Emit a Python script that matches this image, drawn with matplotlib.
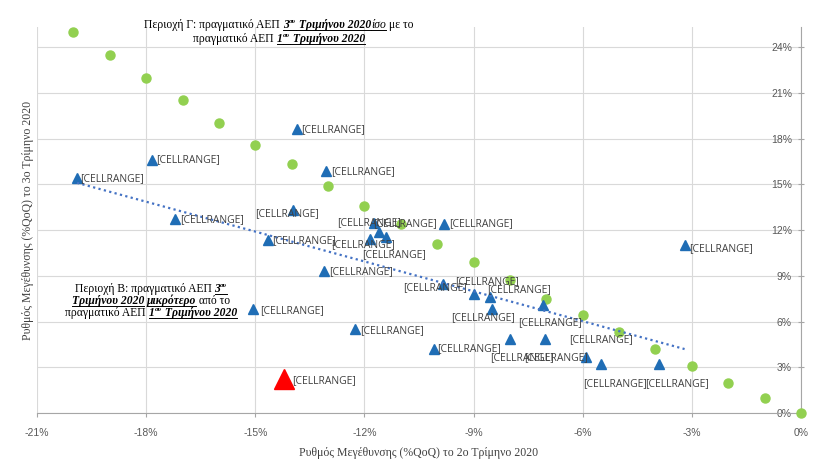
import numpy as np
import matplotlib
matplotlib.use("Agg")
import matplotlib.pyplot as plt
from matplotlib.transforms import IdentityTransform
from matplotlib.lines import Line2D
from matplotlib.ticker import FuncFormatter

# ---------------- data ----------------
green_x = [-20, -19, -18, -17, -16, -15, -14, -13, -12, -11, -10,
           -9, -8, -7, -6, -5, -4, -3, -2, -1, 0]
green_y = [25.0, 23.5, 22.0, 20.5, 19.0, 17.6, 16.3, 14.9, 13.6, 12.4, 11.1,
           9.9, 8.7, 7.5, 6.4, 5.3, 4.2, 3.1, 2.0, 1.0, 0.0]

blue_x = [-19.9, -17.85, -13.85, -13.05, -17.2, -13.95, -14.65, -11.75, -11.6,
          -11.85, -11.4, -9.8, -13.1, -9.85, -9.0, -8.55, -8.5, -7.1, -8.0,
          -7.05, -5.9, -5.5, -3.9, -15.05, -12.25, -10.1, -3.2]
blue_y = [15.4, 16.6, 18.6, 15.85, 12.7, 13.3, 11.35, 12.45, 11.9,
          11.4, 11.55, 12.4, 9.3, 8.45, 7.8, 7.6, 6.85, 7.05, 4.85,
          4.85, 3.7, 3.2, 3.2, 6.8, 5.5, 4.2, 11.0]

red_x = [-14.2]
red_y = [2.2]

point_label = "[CELLRANGE]"
x_ticks = [-21, -18, -15, -12, -9, -6, -3, 0]
y_ticks = [0, 3, 6, 9, 12, 15, 18, 21, 24]
x_title = "Ρυθμός Μεγέθυνσης (%QoQ) το 2ο Τρίμηνο 2020"
y_title = "Ρυθμός Μεγέθυνσης (%QoQ) το 3ο Τρίμηνο 2020"

# ---------------- layout (pixels) ----------------
W, H = 825, 473
blue_label_offsets = [(3, 0), (5, 0), (4, 0), (5, 0), (5, 0), (-38, 3), (4, 1),
                      (-36, -1), (-6, -8), (-39, 5), (-24, 18), (5, 0), (5, 0),
                      (-40, 3), (-18, -12), (-3, -7), (-41, 9), (-25, 17),
                      (-20, 19), (-20, 19), (-17, -17), (-18, 19), (-14, 19),
                      (7, 1), (5, 1), (4, 0), (5, 3)]
red_label_offset = (8, 1)

fig = plt.figure(figsize=(W / 100, H / 100), dpi=100)
ax_left, ax_right, ax_bottom, ax_top = 37, 801, 413, 27
ax = fig.add_axes([ax_left / W, 1 - ax_bottom / H,
                   (ax_right - ax_left) / W, (ax_bottom - ax_top) / H])
px_per_pct = 45.75 / 3
ax.set_xlim(-21, 0)
ax.set_ylim(0, (ax_bottom - ax_top) / px_per_pct)

ax.set_xticks(x_ticks)
ax.set_yticks(y_ticks)
ax.grid(True, color="#D9D9D9", lw=0.8, zorder=0)
ax.set_axisbelow(True)
for s in ("top", "left"):
    ax.spines[s].set_visible(False)
for s in ("bottom", "right"):
    ax.spines[s].set_color("#A6A6A6")
    ax.spines[s].set_linewidth(0.8)

pct = FuncFormatter(lambda v, p: f"{v:.0f}%")
ax.xaxis.set_major_formatter(pct)
ax.yaxis.set_major_formatter(pct)
ax.yaxis.tick_right()
ax.tick_params(axis="y", direction="inout", length=5, pad=-9, colors="#A6A6A6",
               labelcolor="#595959", labelsize=7.5)
ax.tick_params(axis="x", direction="out", length=3, pad=7.5, colors="#A6A6A6",
               labelcolor="#595959", labelsize=7.5)
for lbl in ax.yaxis.get_majorticklabels():
    lbl.set_horizontalalignment("right")
    lbl.set_family("Liberation Sans")
for lbl in ax.xaxis.get_majorticklabels():
    lbl.set_family("Liberation Sans")

# ---------------- marks ----------------
ax.plot(green_x, green_y, "o", ms=6.5, color="#92D050", mec="#92D050",
        zorder=3, clip_on=False)
ax.plot(blue_x, blue_y, "^", ms=6.5, color="#1F6DB5", mec="#1F6DB5", zorder=4)
ax.plot(red_x, red_y, "^", ms=14, color="#FF0000", mec="#FF0000", zorder=4)

fit_x = blue_x + red_x
fit_y = blue_y + red_y
coef = np.polyfit(fit_x, fit_y, 1)
tx = np.array([min(blue_x), max(blue_x)])
ax.plot(tx, np.polyval(coef, tx), ls=(0, (1, 1.5)), lw=1.6, color="#4472C4",
        zorder=5)

lab_kw = dict(textcoords="offset pixels", ha="left", va="center",
              fontsize=7.5, family="Open Sans", color="#404040", zorder=6)
for x, y, (dx, dy) in zip(blue_x, blue_y, blue_label_offsets):
    ax.annotate(point_label, (x, y), xytext=(dx, -dy), **lab_kw)
for x, y in zip(red_x, red_y):
    ax.annotate(point_label, (x, y), xytext=(red_label_offset[0], -red_label_offset[1]), **lab_kw)

# ---------------- axis titles ----------------
fig.text(419 / W, 1 - 453 / H, x_title, ha="center", va="center",
         family="Liberation Serif", fontsize=8.5, color="#404040")
fig.text(28 / W, 1 - 220 / H, y_title, ha="center", va="center", rotation=90,
         family="Liberation Serif", fontsize=8.5, color="#404040")

# ---------------- rich-text annotations ----------------
fig.canvas.draw()
renderer = fig.canvas.get_renderer()


def seg_props(style, size):
    return dict(fontsize=size * 0.6 if "s" in style else size,
                fontweight="bold" if "b" in style else "normal",
                fontstyle="italic" if "i" in style else "normal",
                family="Liberation Serif")


def measure(s, props):
    t1 = fig.text(0, 0, s + "|", transform=IdentityTransform(), **props)
    t2 = fig.text(0, 0, "|", transform=IdentityTransform(), **props)
    w = t1.get_window_extent(renderer).width - t2.get_window_extent(renderer).width
    t1.remove()
    t2.remove()
    return w


def line_width(segs, size):
    return sum(measure(s, seg_props(st, size)) for s, st in segs)


def draw_rich(lines, cx, cys, size):
    size_px = size * 100 / 72
    for segs, cy in zip(lines, cys):
        widths = [measure(s, seg_props(st, size)) for s, st in segs]
        x = cx - sum(widths) / 2
        base = H - cy - size_px * 0.33
        for (s, st), w in zip(segs, widths):
            y = base + (size_px * 0.38 if "s" in st else 0)
            fig.text(x, y, s, transform=IdentityTransform(), ha="left",
                     va="baseline", color="black", **seg_props(st, size))
            if "u" in st:
                fig.add_artist(Line2D([x, x + w], [base - 1.8, base - 1.8],
                                      transform=IdentityTransform(),
                                      lw=0.7, color="black"))
            x += w


ref_line = [("πραγματικό ΑΕΠ ", ""), ("1", "biu"), ("ου", "bius"),
            (" Τριμήνου 2020", "biu")]
ann_size = 10 * 171 / line_width(ref_line, 10)

top_lines = [
    [("Περιοχή Γ: πραγματικό ΑΕΠ ", ""), ("3", "biu"), ("ου", "bius"),
     (" Τριμήνου 2020", "biu"), ("ίσο", "iu"), (" με το", "")],
    ref_line,
]
left_lines = [
    [("Περιοχή Β: πραγματικό ΑΕΠ ", ""), ("3", "biu"), ("ου", "bius")],
    [("Τριμήνου 2020", "biu"), (" ", ""), ("μικρότερο", "biu"), (" από το", "")],
    ref_line,
]
draw_rich(top_lines, 279, [24, 38], ann_size)
draw_rich(left_lines, 151, [288, 300, 312], ann_size)

fig.savefig("out.png", dpi=100)
